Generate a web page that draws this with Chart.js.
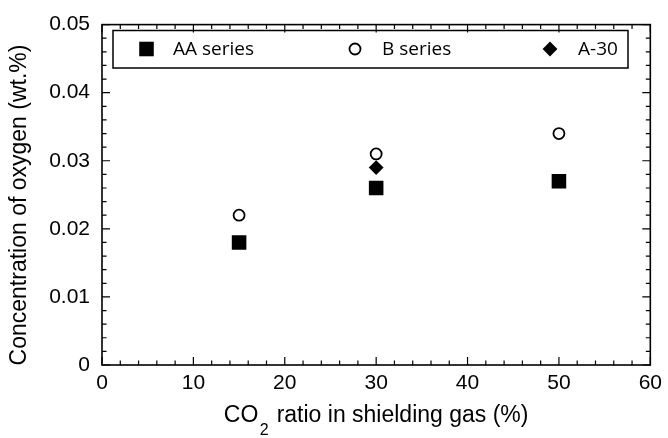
<!DOCTYPE html>
<html><head><meta charset="utf-8">
<script src="https://cdn.jsdelivr.net/npm/chart.js@4.4.0/dist/chart.umd.min.js"></script>
<style>html,body{margin:0;padding:0;background:#fff}#wrap{width:668px;height:438px}</style>
</head><body><div id="wrap"><canvas id="c" width="668" height="438"></canvas></div>
<script>
// ---- data ----
const co2Ratio = [15, 30, 50];
const aaSeries = [0.018, 0.026, 0.027];
const bSeries  = [0.022, 0.031, 0.034];
const a30Ratio = [30];
const a30Value = [0.029];
const seriesLabels = ['AA series', 'B series', 'A-30'];
const xTickLabels = ['0', '10', '20', '30', '40', '50', '60'];
const yTickLabels = ['0', '0.01', '0.02', '0.03', '0.04', '0.05'];
const xTitleParts = ['CO', '2', ' ratio in shielding gas (%)'];
const yTitle = 'Concentration of oxygen (wt.%)';

const toPts = (xs, ys) => xs.map((x, i) => ({x: x, y: ys[i]}));
const tickFont = {family: '"Liberation Sans", Arial, sans-serif', size: 21};

const frameAndTicks = {
  id: 'frameAndTicks',
  afterDraw(chart) {
    const ctx = chart.ctx, a = chart.chartArea;
    const xs = chart.scales.x, ys = chart.scales.y;
    ctx.save();
    ctx.strokeStyle = '#000';
    ctx.lineWidth = 1.6;
    ctx.strokeRect(a.left, a.top, a.right - a.left, a.bottom - a.top);
    ctx.lineWidth = 1.2;
    ctx.beginPath();
    for (let k = 0; k <= 30; k++) {
      const v = k * 2;
      const p = xs.getPixelForValue(v);
      const len = (k % 5 === 0) ? 8 : 4.5;
      ctx.moveTo(p, a.bottom); ctx.lineTo(p, a.bottom - len);
      ctx.moveTo(p, a.top); ctx.lineTo(p, a.top + len);
    }
    for (let k = 0; k <= 25; k++) {
      const v = k * 0.002;
      const p = ys.getPixelForValue(v);
      const len = (k % 5 === 0) ? 8 : 4.5;
      ctx.moveTo(a.left, p); ctx.lineTo(a.left + len, p);
      ctx.moveTo(a.right, p); ctx.lineTo(a.right - len, p);
    }
    ctx.stroke();

    // axis titles
    ctx.fillStyle = '#000';
    ctx.textBaseline = 'alphabetic';
    const big = '23px "Liberation Sans", Arial, sans-serif';
    const small = '16px "Liberation Sans", Arial, sans-serif';
    ctx.font = big;
    const w0 = ctx.measureText(xTitleParts[0]).width;
    const w2 = ctx.measureText(xTitleParts[2]).width;
    ctx.font = small;
    const w1 = ctx.measureText(xTitleParts[1]).width;
    const total = w0 + w1 + 3 + w2;
    let x = (a.left + a.right) / 2 - total / 2;
    const base = 422;
    ctx.font = big; ctx.textAlign = 'left';
    ctx.fillText(xTitleParts[0], x, base); x += w0 + 1.5;
    ctx.font = small;
    ctx.fillText(xTitleParts[1], x, base + 13); x += w1 + 1.5;
    ctx.font = big;
    ctx.fillText(xTitleParts[2], x, base);

    ctx.translate(20, 205);
    ctx.rotate(-Math.PI / 2);
    ctx.textAlign = 'center';
    ctx.textBaseline = 'middle';
    ctx.fillText(yTitle, 0, 0);
    ctx.restore();

    // legend box
    ctx.save();
    ctx.strokeStyle = '#000';
    ctx.lineWidth = 1.5;
    ctx.strokeRect(113, 30.5, 515, 37.5);
    const markX = [146.5, 355, 550];
    const textX = [173, 382, 578];
    const cy = 49;
    ctx.font = '19px "Open Sans", "Noto Sans", sans-serif';
    ctx.textAlign = 'left';
    ctx.textBaseline = 'middle';
    chart.data.datasets.forEach((ds, i) => {
      ctx.fillStyle = ds.pointBackgroundColor;
      ctx.strokeStyle = ds.pointBorderColor;
      ctx.lineWidth = ds.pointBorderWidth;
      Chart.helpers.drawPoint(ctx, {pointStyle: ds.pointStyle, radius: ds.pointRadius, borderWidth: ds.pointBorderWidth, rotation: 0}, markX[i], cy);
      ctx.fillStyle = '#000';
      ctx.fillText(ds.label, textX[i], cy + 1);
    });
    ctx.restore();
  }
};

new Chart(document.getElementById('c'), {
  type: 'scatter',
  data: {
    datasets: [
      {label: seriesLabels[0], data: toPts(co2Ratio, aaSeries), pointStyle: 'rect', pointRadius: 10.3,
       pointBackgroundColor: '#000', pointBorderColor: '#000', pointBorderWidth: 0},
      {label: seriesLabels[1], data: toPts(co2Ratio, bSeries), pointStyle: 'circle', pointRadius: 5.5,
       pointBackgroundColor: '#fff', pointBorderColor: '#000', pointBorderWidth: 1.8},
      {label: seriesLabels[2], data: toPts(a30Ratio, a30Value), pointStyle: 'rectRot', pointRadius: 7.4,
       pointBackgroundColor: '#000', pointBorderColor: '#000', pointBorderWidth: 0}
    ]
  },
  options: {
    responsive: false,
    animation: false,
    layout: {padding: {top: 20, right: 16, left: 0, bottom: 0}},
    plugins: {legend: {display: false}, tooltip: {enabled: false}},
    scales: {
      x: {
        type: 'linear', min: 0, max: 60,
        afterFit: s => { s.height = 73; },
        afterBuildTicks: s => { s.ticks = xTickLabels.map(t => ({value: Number(t)})); },
        ticks: {callback: (v, i) => xTickLabels[i], font: tickFont, color: '#000', padding: 6, maxRotation: 0},
        grid: {display: false, drawTicks: false},
        border: {display: false}
      },
      y: {
        type: 'linear', min: 0, max: 0.05,
        afterFit: s => { s.width = 102; },
        afterBuildTicks: s => { s.ticks = yTickLabels.map(t => ({value: Number(t)})); },
        ticks: {callback: (v, i) => yTickLabels[i], font: tickFont, color: '#000', padding: 12},
        grid: {display: false, drawTicks: false},
        border: {display: false}
      }
    }
  },
  plugins: [frameAndTicks]
});
</script></body></html>
